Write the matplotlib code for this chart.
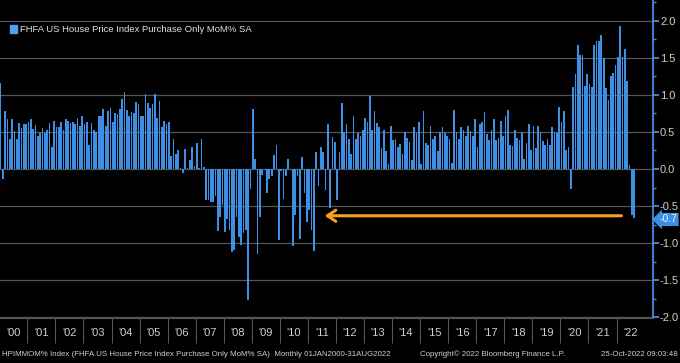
import matplotlib
matplotlib.use("Agg")
import matplotlib.pyplot as plt
import numpy as np
from matplotlib.patches import Rectangle
from matplotlib.ticker import FixedLocator, MultipleLocator, NullFormatter
import matplotlib.transforms as mtrans

plt.rcParams['font.family'] = ['Liberation Sans', 'DejaVu Sans']

# monthly MoM % values, Jan 2000 - Aug 2022
y2000 = [1.16, -0.13, 0.78, 0.68, 0.41, 0.68, 0.51, 0.40, 0.62, 0.55, 0.61, 0.60]
y2001 = [0.63, 0.67, 0.54, 0.59, 0.44, 0.48, 0.55, 0.48, 0.52, 0.62, 0.29, 0.65]
y2002 = [0.57, 0.57, 0.64, 0.52, 0.68, 0.65, 0.62, 0.64, 0.61, 0.69, 0.58, 0.72]
y2003 = [0.61, 0.63, 0.33, 0.62, 0.53, 0.50, 0.72, 0.72, 0.81, 0.58, 0.78, 0.82]
y2004 = [0.64, 0.75, 0.74, 0.81, 0.94, 1.04, 0.80, 0.72, 0.77, 0.76, 0.90, 0.88]
y2005 = [0.72, 0.71, 1.01, 0.89, 0.82, 0.87, 1.01, 0.69, 0.92, 0.56, 0.65, 0.61]
y2006 = [0.64, 0.17, 0.40, 0.20, 0.26, 0.01, -0.06, 0.27, 0.01, 0.12, 0.30, 0.04]
y2007 = [0.35, 0.02, 0.41, 0.03, -0.42, -0.42, -0.45, -0.45, -0.37, -0.83, -0.65, -0.48]
y2008 = [-0.85, -0.67, -0.82, -1.12, -1.09, -0.64, -0.91, -1.03, -0.86, -0.82, -1.76, -0.27]
y2009 = [0.81, 0.13, -1.14, -0.64, -0.08, -0.01, -0.32, -0.14, -0.09, 0.19, 0.32, -0.95]
y2010 = [-0.02, -0.41, -0.09, 0.13, -0.01, -1.04, -0.62, -0.09, -0.94, 0.16, -0.32, -0.71]
y2011 = [-0.55, -0.82, -1.11, 0.23, -0.23, 0.29, 0.23, -0.28, 0.61, -0.52, 0.43, 0.36]
y2012 = [-0.42, 0.23, 0.89, 0.50, 0.61, 0.40, 0.20, 0.71, 0.40, 0.48, 0.45, 0.52]
y2013 = [0.69, 0.64, 0.99, 0.52, 0.78, 0.62, 0.56, 0.28, 0.53, 0.24, 0.07, 0.58]
y2014 = [0.39, 0.41, 0.30, 0.34, 0.20, 0.50, 0.42, 0.37, 0.12, 0.56, 0.48, 0.64]
y2015 = [0.07, 0.78, 0.35, 0.32, 0.58, 0.41, 0.45, 0.24, 0.50, 0.56, 0.48, 0.44]
y2016 = [0.40, 0.08, 0.80, 0.50, 0.40, 0.56, 0.53, 0.44, 0.58, 0.51, 0.44, 0.68]
y2017 = [0.30, 0.61, 0.64, 0.77, 0.47, 0.39, 0.53, 0.67, 0.39, 0.42, 0.65, 0.44]
y2018 = [0.72, 0.80, 0.33, 0.31, 0.52, 0.42, 0.39, 0.50, 0.14, 0.35, 0.60, 0.25]
y2019 = [0.58, 0.28, 0.58, 0.50, 0.38, 0.32, 0.40, 0.32, 0.56, 0.50, 0.48, 0.84]
y2020 = [0.64, 0.78, 0.26, 0.29, -0.27, 1.10, 1.28, 1.67, 1.54, 1.54, 1.12, 1.28]
y2021 = [1.15, 1.11, 1.67, 1.72, 1.73, 1.81, 1.50, 1.09, 0.93, 1.25, 1.29, 1.40]
y2022 = [1.51, 1.93, 1.51, 1.62, 1.18, 0.05, -0.62, -0.66]

vals = np.array(y2000 + y2001 + y2002 + y2003 + y2004 + y2005 + y2006 + y2007 +
                y2008 + y2009 + y2010 + y2011 + y2012 + y2013 + y2014 + y2015 +
                y2016 + y2017 + y2018 + y2019 + y2020 + y2021 + y2022)
months = np.arange(len(vals))
years = ["'%02d" % k for k in range(0, 23)]
last_label = "-0.7"
arrow_from, arrow_to, arrow_y = 266.8, 137.5, -0.63

blue = '#3d8fe3'
grid = '#555555'
txt = '#cfcfcf'

fig = plt.figure(figsize=(6.8, 3.63), dpi=100, facecolor='black')
ax = fig.add_axes([0, 45/363, 653/680, 318/363])
ax.set_facecolor('black')

ax.bar(months, vals, width=0.72, color=blue, zorder=2)

ax.set_xlim(-0.2, 279.1)
ax.set_ylim(-2.008, 2.278)

# right value axis
ax.yaxis.tick_right()
ax.yaxis.set_major_locator(FixedLocator(np.arange(-2.0, 2.01, 0.5)))
ax.yaxis.set_minor_locator(MultipleLocator(0.25))
ax.set_yticklabels(['%.1f' % v for v in np.arange(-2.0, 2.01, 0.5)])
ax.tick_params(axis='y', which='major', direction='out', length=4, width=1.3,
               color=blue, labelcolor=txt, labelsize=8, pad=1)
ax.tick_params(axis='y', which='minor', direction='out', length=2, width=1, color=blue)
ax.grid(axis='y', which='major', color=grid, lw=0.9, zorder=1)
ax.set_axisbelow(True)

# year axis
ax.xaxis.set_major_locator(FixedLocator(np.arange(11.5, 270, 12)))
ax.xaxis.set_major_formatter(NullFormatter())
ax.xaxis.set_minor_locator(FixedLocator(np.arange(5.5, 276, 12)))
ax.set_xticklabels(years, minor=True)
ax.tick_params(axis='x', which='major', direction='out', length=18, width=0.8, color=grid)
ax.tick_params(axis='x', which='minor', length=0, labelcolor=txt, labelsize=8, pad=7)

for s in ['left', 'top']:
    ax.spines[s].set_visible(False)
ax.spines['bottom'].set_color(grid)
ax.spines['right'].set_color(blue)
ax.spines['right'].set_linewidth(1.3)

# orange arrow
ax.annotate('', xy=(arrow_to, arrow_y), xytext=(arrow_from, arrow_y),
            arrowprops=dict(arrowstyle='->,head_length=0.6,head_width=0.4',
                            color='#f5a01e', lw=2.2), zorder=4)

# last value tag
tr = mtrans.blended_transform_factory(fig.transFigure, ax.transData)
ax.text(677/680, vals[-1] - 0.02, last_label, transform=tr, ha='right', va='center',
        fontsize=7.5, color='#eaf4ff', clip_on=False,
        bbox=dict(boxstyle='larrow,pad=0.15', fc=blue, ec='none'))

# legend strip
fig.add_artist(Rectangle((0, (363-38)/363), 250/680, 17/363, transform=fig.transFigure,
                         color='#151515', zorder=0))
fig.add_artist(Rectangle((10/680, (363-33)/363), 7/680, 8/363, transform=fig.transFigure,
                         color='#4aa3f5', zorder=3))
fig.text(20/680, (363-29.5)/363, 'FHFA US House Price Index Purchase Only MoM% SA',
         fontsize=6.8, color='#e0e0e0', va='center', ha='left')

# footer
fy = 9/363
fig.text(2/680, fy, 'HPIMMOM% Index (FHFA US House Price Index Purchase Only MoM% SA)  Monthly 01JAN2000-31AUG2022',
         fontsize=5.7, color=txt, va='center', ha='left')
fig.text(420/680, fy, 'Copyright\u00a9 2022 Bloomberg Finance L.P.', fontsize=5.7, color=txt,
         va='center', ha='left')
fig.text(678/680, fy, '25-Oct-2022 09:03:48', fontsize=5.7, color=txt, va='center', ha='right')

fig.savefig('out.png', dpi=100, facecolor='black')
